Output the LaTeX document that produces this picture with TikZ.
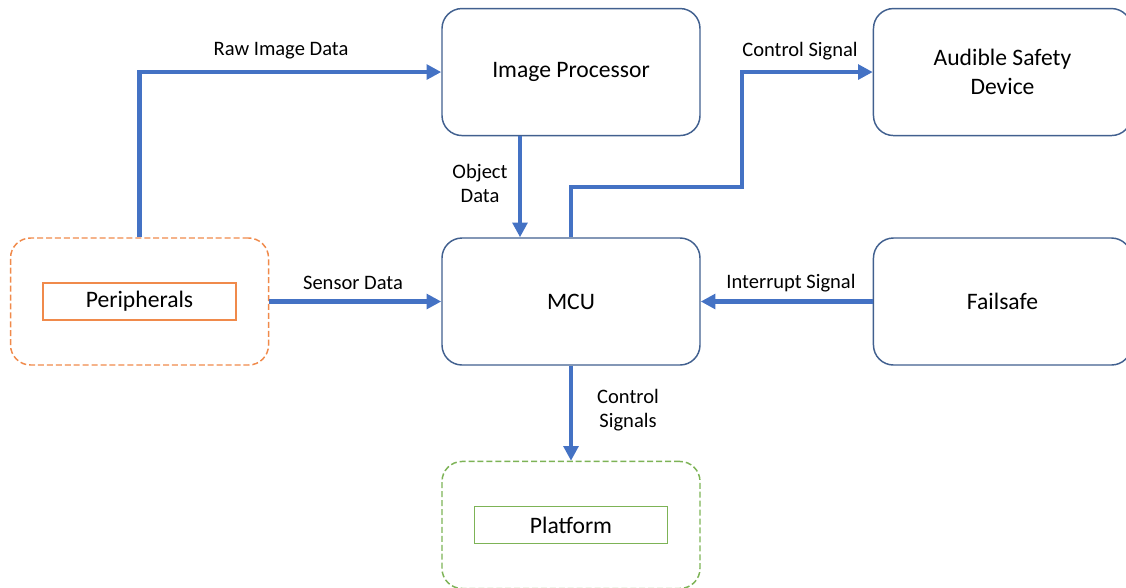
\documentclass[tikz,border=0pt]{standalone}
\usepackage{fontspec}
\setmainfont{Carlito}
\usetikzlibrary{arrows.meta,positioning}
\definecolor{boxline}{HTML}{41608F}
\definecolor{flowblue}{HTML}{4472C4}
\definecolor{periphorange}{HTML}{F08A4B}
\definecolor{platgreen}{HTML}{7DB356}

\begin{document}
\begin{tikzpicture}[
  x=0.75pt, y=-0.75pt,
  font=\fontsize{17.7}{21.7}\selectfont,
  node distance=75.75pt and 129pt,
  block/.style={draw=boxline, line width=1.1pt, rounded corners=15pt, align=center, minimum width=193.5pt, minimum height=95.25pt, inner sep=0pt},
  group/.style={block, dash pattern=on 4.5pt off 2.2pt},
  tag/.style={draw, line width=1pt, minimum width=144.75pt, minimum height=27.75pt, inner sep=0pt},
  flow/.style={-{Triangle[length=11pt, width=11pt]}, draw=flowblue, line width=3.2pt},
  lbl/.style={font=\fontsize{15.4}{18}\selectfont, align=center}
]
\useasboundingbox (0,0) rectangle (1126,587);

\node[block] (mcu) at (571,301.5) {MCU};
\node[block, above=of mcu] (imgproc) {Image Processor};
\node[block, right=of imgproc] (audible) {Audible Safety\\Device};
\node[block, right=of mcu] (failsafe) {Failsafe};
\node[group, draw=periphorange, left=of mcu] (periph) {};
\node[tag, draw=periphorange] (periphtag) at (periph) {Peripherals};
\node[group, draw=platgreen, below=of mcu, yshift=4.5pt] (platform) {};
\node[tag, draw=platgreen] (platformtag) at (platform) {Platform};

% connectors
\coordinate (bend) at (742,187);
\draw[flow] (periph.north) |- (imgproc.west);
\draw[flow] ([xshift=-38.25pt]imgproc.south) -- ([xshift=-38.25pt]mcu.north);
\draw[flow] (mcu.north) |- (bend) |- (audible.west);
\draw[flow] (periph.east) -- (mcu.west);
\draw[flow] (failsafe.west) -- (mcu.east);
\draw[flow] (mcu.south) -- (platform.north);

% labels
\node[lbl] (rawlbl) at (281,51) {Raw Image Data};
\node[lbl] (objlbl) at (480,183) {Object\\Data};
\node[lbl] (ctrllbl) at (800,51) {Control Signal};
\node[lbl] (senslbl) at (353,283) {Sensor Data};
\node[lbl] (intlbl) at (791,283) {Interrupt Signal};
\node[lbl] (ctrlslbl) at (628,410) {Control\\Signals};
\end{tikzpicture}
\end{document}
